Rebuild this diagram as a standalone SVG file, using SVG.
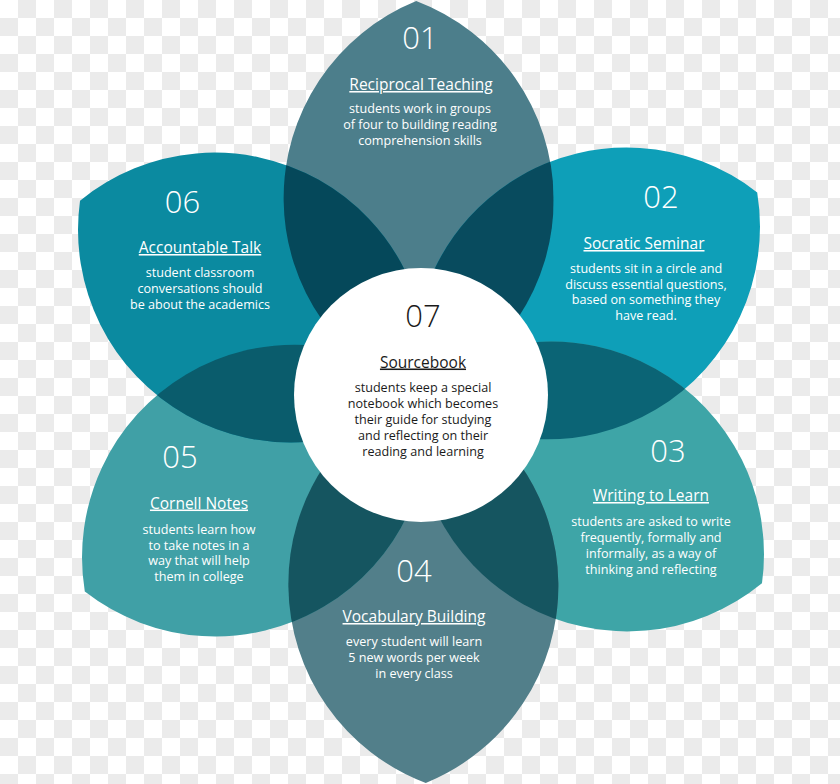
<svg xmlns="http://www.w3.org/2000/svg" xmlns:xlink="http://www.w3.org/1999/xlink" width="840" height="784" viewBox="0 0 840 784">
<style>
.num{font-family:"Open Sans","Noto Sans",sans-serif;font-weight:300;font-size:31px;fill:#ffffff;text-anchor:middle}
.ttl{font-family:"Open Sans","Noto Sans",sans-serif;font-size:15.5px;fill:#ffffff;text-anchor:middle;text-decoration:underline}
.txt{font-family:"Open Sans","Noto Sans",sans-serif;font-size:12.6px;fill:#ffffff;text-anchor:middle}
.dark{fill:#1a1a1a}
</style>
<defs>
<pattern id="chk" width="36" height="36" patternUnits="userSpaceOnUse">
<rect width="36" height="36" fill="#ffffff"/>
<rect x="18" y="0" width="18" height="18" fill="#ebebeb"/>
<rect x="0" y="18" width="18" height="18" fill="#ebebeb"/>
</pattern>
<path id="lens" d="M0,-391 A212.7,212.7 0 0 0 0,5 A212.7,212.7 0 0 0 0,-391 Z"/>
<clipPath id="c1"><use xlink:href="#lens" transform="translate(421 392) rotate(0)"/></clipPath>
<clipPath id="c2"><use xlink:href="#lens" transform="translate(421 392) rotate(60)"/></clipPath>
<clipPath id="c3"><use xlink:href="#lens" transform="translate(421 392) rotate(120)"/></clipPath>
<clipPath id="c4"><use xlink:href="#lens" transform="translate(421 392) rotate(180)"/></clipPath>
<clipPath id="c5"><use xlink:href="#lens" transform="translate(421 392) rotate(240)"/></clipPath>
<clipPath id="c6"><use xlink:href="#lens" transform="translate(421 392) rotate(300)"/></clipPath>
</defs>
<rect width="840" height="784" fill="url(#chk)"/>
<g id="petals" transform="rotate(-0.7 421 392)">
<use id="petal-01" xlink:href="#lens" transform="translate(421 392) rotate(0)" fill="#4c7e8b"/>
<use id="petal-02" xlink:href="#lens" transform="translate(421 392) rotate(60)" fill="#0e9fb8"/>
<use id="petal-03" xlink:href="#lens" transform="translate(421 392) rotate(120)" fill="#3ea5a7"/>
<use id="petal-04" xlink:href="#lens" transform="translate(421 392) rotate(180)" fill="#527f8a"/>
<use id="petal-05" xlink:href="#lens" transform="translate(421 392) rotate(240)" fill="#40a0a6"/>
<use id="petal-06" xlink:href="#lens" transform="translate(421 392) rotate(300)" fill="#0b8aa0"/>
<g clip-path="url(#c1)"><use xlink:href="#lens" transform="translate(421 392) rotate(60)" fill="#084b5e"/></g>
<g clip-path="url(#c2)"><use xlink:href="#lens" transform="translate(421 392) rotate(120)" fill="#0b6475"/></g>
<g clip-path="url(#c3)"><use xlink:href="#lens" transform="translate(421 392) rotate(180)" fill="#155560"/></g>
<g clip-path="url(#c4)"><use xlink:href="#lens" transform="translate(421 392) rotate(240)" fill="#155560"/></g>
<g clip-path="url(#c5)"><use xlink:href="#lens" transform="translate(421 392) rotate(300)" fill="#0a5c6c"/></g>
<g clip-path="url(#c6)"><use xlink:href="#lens" transform="translate(421 392) rotate(0)" fill="#05485a"/></g>
</g>
<g id="node-01">
<text class="num" x="420" y="49">01</text>
<text class="ttl" x="421" y="90">Reciprocal Teaching</text>
<text class="txt" x="420" y="113">students work in groups</text>
<text class="txt" x="420" y="129">of four to building reading</text>
<text class="txt" x="420" y="145">comprehension skills</text>
</g>
<g id="node-02">
<text class="num" x="661" y="208">02</text>
<text class="ttl" x="644" y="249">Socratic Seminar</text>
<text class="txt" x="646" y="273">students sit in a circle and</text>
<text class="txt" x="646" y="288.5">discuss essential questions,</text>
<text class="txt" x="646" y="304">based on something they</text>
<text class="txt" x="646" y="320">have read.</text>
</g>
<g id="node-03">
<text class="num" x="668" y="462">03</text>
<text class="ttl" x="651" y="501">Writing to Learn</text>
<text class="txt" x="651" y="526">students are asked to write</text>
<text class="txt" x="651" y="542">frequently, formally and</text>
<text class="txt" x="651" y="558">informally, as a way of</text>
<text class="txt" x="651" y="573.5">thinking and reflecting</text>
</g>
<g id="node-04">
<text class="num" x="414" y="582">04</text>
<text class="ttl" x="414" y="622">Vocabulary Building</text>
<text class="txt" x="414" y="646">every student will learn</text>
<text class="txt" x="414" y="662">5 new words per week</text>
<text class="txt" x="414" y="678">in every class</text>
</g>
<g id="node-05">
<text class="num" x="180" y="468">05</text>
<text class="ttl" x="199" y="508.5">Cornell Notes</text>
<text class="txt" x="199" y="533.5">students learn how</text>
<text class="txt" x="199" y="549.5">to take notes in a</text>
<text class="txt" x="199" y="565">way that will help</text>
<text class="txt" x="199" y="581">them in college</text>
</g>
<g id="node-06">
<text class="num" x="182.5" y="213">06</text>
<text class="ttl" x="200" y="253">Accountable Talk</text>
<text class="txt" x="200" y="277">student classroom</text>
<text class="txt" x="200" y="293">conversations should</text>
<text class="txt" x="200" y="308.5">be about the academics</text>
</g>
<g id="node-07">
<circle cx="421" cy="395" r="127" fill="#ffffff"/>
<text class="num dark" x="423" y="327">07</text>
<text class="ttl dark" x="423" y="367.5">Sourcebook</text>
<text class="txt dark" x="423" y="392">students keep a special</text>
<text class="txt dark" x="423" y="408">notebook which becomes</text>
<text class="txt dark" x="423" y="423.5">their guide for studying</text>
<text class="txt dark" x="423" y="439.5">and reflecting on their</text>
<text class="txt dark" x="423" y="456">reading and learning</text>
</g>
</svg>
